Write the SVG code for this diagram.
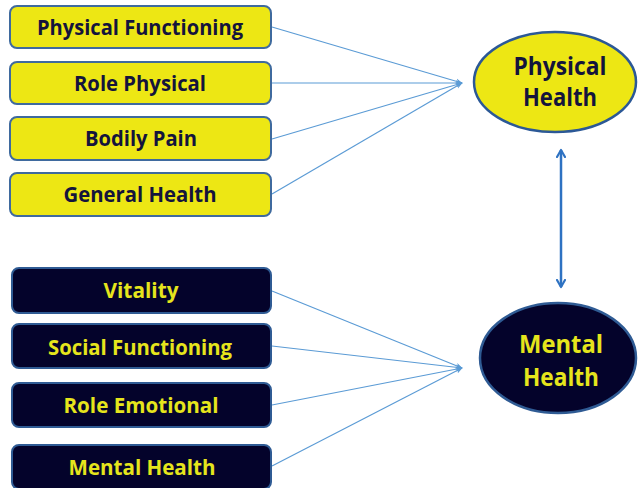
<svg xmlns="http://www.w3.org/2000/svg" width="638" height="488" viewBox="0 0 638 488">
  <style>
    .box-y { fill: #EDE714; stroke: #3F6A9E; stroke-width: 2; }
    .box-d { fill: #04032B; stroke: #2F5B94; stroke-width: 2; }
    .lbl { font-family: "Open Sans", "Liberation Sans", sans-serif; font-weight: bold; text-anchor: middle; }
    .lbl-y { fill: #14143C; font-size: 20.5px; }
    .lbl-d { fill: #E6E51C; font-size: 20.5px; }
    .big { font-size: 25.5px; }
    .link { stroke: #5B9BD5; stroke-width: 1.2; fill: none; }
    .dbl { stroke: #2E72C2; stroke-width: 2.5; fill: none; }
  </style>
  <defs>
    <marker id="head" viewBox="0 0 10 10" refX="9" refY="5" markerWidth="7" markerHeight="7" markerUnits="userSpaceOnUse" orient="auto">
      <path d="M0,1 L10,5 L0,9 L3,5 Z" fill="#5B9BD5"/>
    </marker>
    <marker id="chev" viewBox="0 0 10 10" refX="8" refY="5" markerWidth="4" markerHeight="4" orient="auto-start-reverse">
      <path d="M1,1 L8,5 L1,9" fill="none" stroke="#2E72C2" stroke-width="2.2" stroke-linecap="round" stroke-linejoin="round"/>
    </marker>
  </defs>
  <rect width="638" height="488" fill="#FFFFFF"/>

  <g id="connectors">
    <line class="link" x1="272" y1="27" x2="462" y2="83" marker-end="url(#head)"/>
    <line class="link" x1="272" y1="83" x2="462" y2="83" marker-end="url(#head)"/>
    <line class="link" x1="272" y1="139" x2="462" y2="83" marker-end="url(#head)"/>
    <line class="link" x1="272" y1="194" x2="462" y2="83" marker-end="url(#head)"/>
    <line class="link" x1="272" y1="291" x2="462" y2="368" marker-end="url(#head)"/>
    <line class="link" x1="272" y1="346" x2="462" y2="368" marker-end="url(#head)"/>
    <line class="link" x1="272" y1="405" x2="462" y2="368" marker-end="url(#head)"/>
    <line class="link" x1="272" y1="466" x2="462" y2="368" marker-end="url(#head)"/>
    <line class="dbl" x1="561" y1="150" x2="561" y2="287" marker-start="url(#chev)" marker-end="url(#chev)"/>
  </g>

  <g id="physical-functioning">
    <rect class="box-y" x="10" y="6" width="261" height="42" rx="7"/>
    <text class="lbl lbl-y" x="140" y="35" textLength="206" lengthAdjust="spacingAndGlyphs">Physical Functioning</text>
  </g>
  <g id="role-physical">
    <rect class="box-y" x="10" y="62" width="261" height="42" rx="7"/>
    <text class="lbl lbl-y" x="140" y="91" textLength="132" lengthAdjust="spacingAndGlyphs">Role Physical</text>
  </g>
  <g id="bodily-pain">
    <rect class="box-y" x="10" y="117" width="261" height="43" rx="7"/>
    <text class="lbl lbl-y" x="141" y="146" textLength="112" lengthAdjust="spacingAndGlyphs">Bodily Pain</text>
  </g>
  <g id="general-health">
    <rect class="box-y" x="10" y="173" width="261" height="43" rx="7"/>
    <text class="lbl lbl-y" x="140" y="202" textLength="153" lengthAdjust="spacingAndGlyphs">General Health</text>
  </g>

  <g id="vitality">
    <rect class="box-d" x="12" y="268" width="259" height="45" rx="7"/>
    <text class="lbl lbl-d" x="141" y="298" textLength="75" lengthAdjust="spacingAndGlyphs">Vitality</text>
  </g>
  <g id="social-functioning">
    <rect class="box-d" x="12" y="324" width="259" height="44" rx="7"/>
    <text class="lbl lbl-d" x="140" y="355" textLength="184" lengthAdjust="spacingAndGlyphs">Social Functioning</text>
  </g>
  <g id="role-emotional">
    <rect class="box-d" x="12" y="383" width="259" height="44" rx="7"/>
    <text class="lbl lbl-d" x="141" y="413" textLength="155" lengthAdjust="spacingAndGlyphs">Role Emotional</text>
  </g>
  <g id="mental-health-scale">
    <rect class="box-d" x="12" y="445" width="259" height="44" rx="7"/>
    <text class="lbl lbl-d" x="142" y="475" textLength="147" lengthAdjust="spacingAndGlyphs">Mental Health</text>
  </g>

  <g id="physical-health">
    <ellipse cx="555" cy="82" rx="81" ry="50" fill="#EDE714" stroke="#2B5896" stroke-width="2.5"/>
    <text class="lbl lbl-y big" x="560" y="75" textLength="93" lengthAdjust="spacingAndGlyphs">Physical</text>
    <text class="lbl lbl-y big" x="560" y="106" textLength="74" lengthAdjust="spacingAndGlyphs">Health</text>
  </g>
  <g id="mental-health">
    <ellipse cx="558" cy="358" rx="78" ry="55" fill="#04032B" stroke="#2F5B94" stroke-width="2.5"/>
    <text class="lbl lbl-d big" x="561" y="353" textLength="84" lengthAdjust="spacingAndGlyphs">Mental</text>
    <text class="lbl lbl-d big" x="561" y="386" textLength="76" lengthAdjust="spacingAndGlyphs">Health</text>
  </g>
</svg>
